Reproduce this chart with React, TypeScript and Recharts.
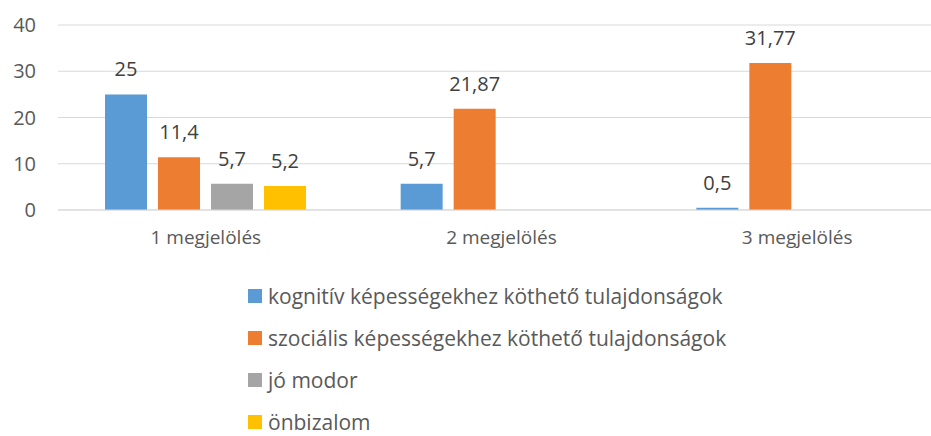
import { Bar, BarChart, CartesianGrid, LabelList, Legend, XAxis, YAxis } from "recharts";

const categories = ["1 megjelölés", "2 megjelölés", "3 megjelölés"];
const kognitiv = [25, 5.7, 0.5];
const szocialis = [11.4, 21.87, 31.77];
const joModor = [5.7, null, null];
const onbizalom = [5.2, null, null];
const yTicks = [0, 10, 20, 30, 40];

const series = [
  { key: "kognitiv", name: "kognitív képességekhez köthető tulajdonságok", color: "#5B9BD5" },
  { key: "szocialis", name: "szociális képességekhez köthető tulajdonságok", color: "#ED7D31" },
  { key: "joModor", name: "jó modor", color: "#A5A5A5" },
  { key: "onbizalom", name: "önbizalom", color: "#FFC000" },
];

const data = categories.map((c, i) => ({
  cat: c,
  kognitiv: kognitiv[i],
  szocialis: szocialis[i],
  joModor: joModor[i],
  onbizalom: onbizalom[i],
}));

const FONT = "'Open Sans', sans-serif";
const fmt = (v: unknown) => (v == null ? "" : String(v).replace(".", ","));

// legend drawn as a plain vertical list, the way the source chart stacks it
const renderLegend = () => (
  <ul style={{ listStyle: "none", margin: 0, padding: 0, fontFamily: FONT }}>
    {series.map((s) => (
      <li key={s.key} style={{ height: 42, display: "flex", alignItems: "center", color: "#595959", fontSize: 21 }}>
        <span style={{ width: 14, height: 14, background: s.color, display: "inline-block", marginRight: 6 }} />
        {s.name}
      </li>
    ))}
  </ul>
);

export default function App() {
  return (
    <div style={{ position: "absolute", left: 0, top: 0, width: 931, height: 436, overflow: "hidden", background: "#fff" }}>
      <BarChart
        width={946}
        height={436}
        data={data}
        margin={{ top: 25, right: 1, bottom: 196, left: 0 }}
        barSize={42}
        barGap={11}
      >
        <CartesianGrid vertical={false} stroke="#d9d9d9" />
        <XAxis
          dataKey="cat"
          height={30}
          tickLine={false}
          axisLine={{ stroke: "#d9d9d9" }}
          tickSize={0}
          tickMargin={21}
          tick={{ fill: "#595959", fontSize: 19, fontFamily: FONT }}
        />
        <YAxis
          width={58}
          domain={[0, 40]}
          ticks={yTicks}
          axisLine={false}
          tickLine={false}
          tickSize={0}
          tickMargin={22}
          tick={{ fill: "#595959", fontSize: 20, fontFamily: FONT }}
        />
        <Legend
          layout="vertical"
          align="center"
          verticalAlign="middle"
          content={renderLegend}
          wrapperStyle={{ left: 248, top: 275, width: "auto" }}
        />
        {series.map((s) => (
          <Bar key={s.key} dataKey={s.key} name={s.name} fill={s.color} isAnimationActive={false}>
            <LabelList
              dataKey={s.key}
              position="top"
              offset={18}
              formatter={fmt}
              style={{ fill: "#404040", fontSize: 20, fontFamily: FONT }}
            />
          </Bar>
        ))}
      </BarChart>
    </div>
  );
}
